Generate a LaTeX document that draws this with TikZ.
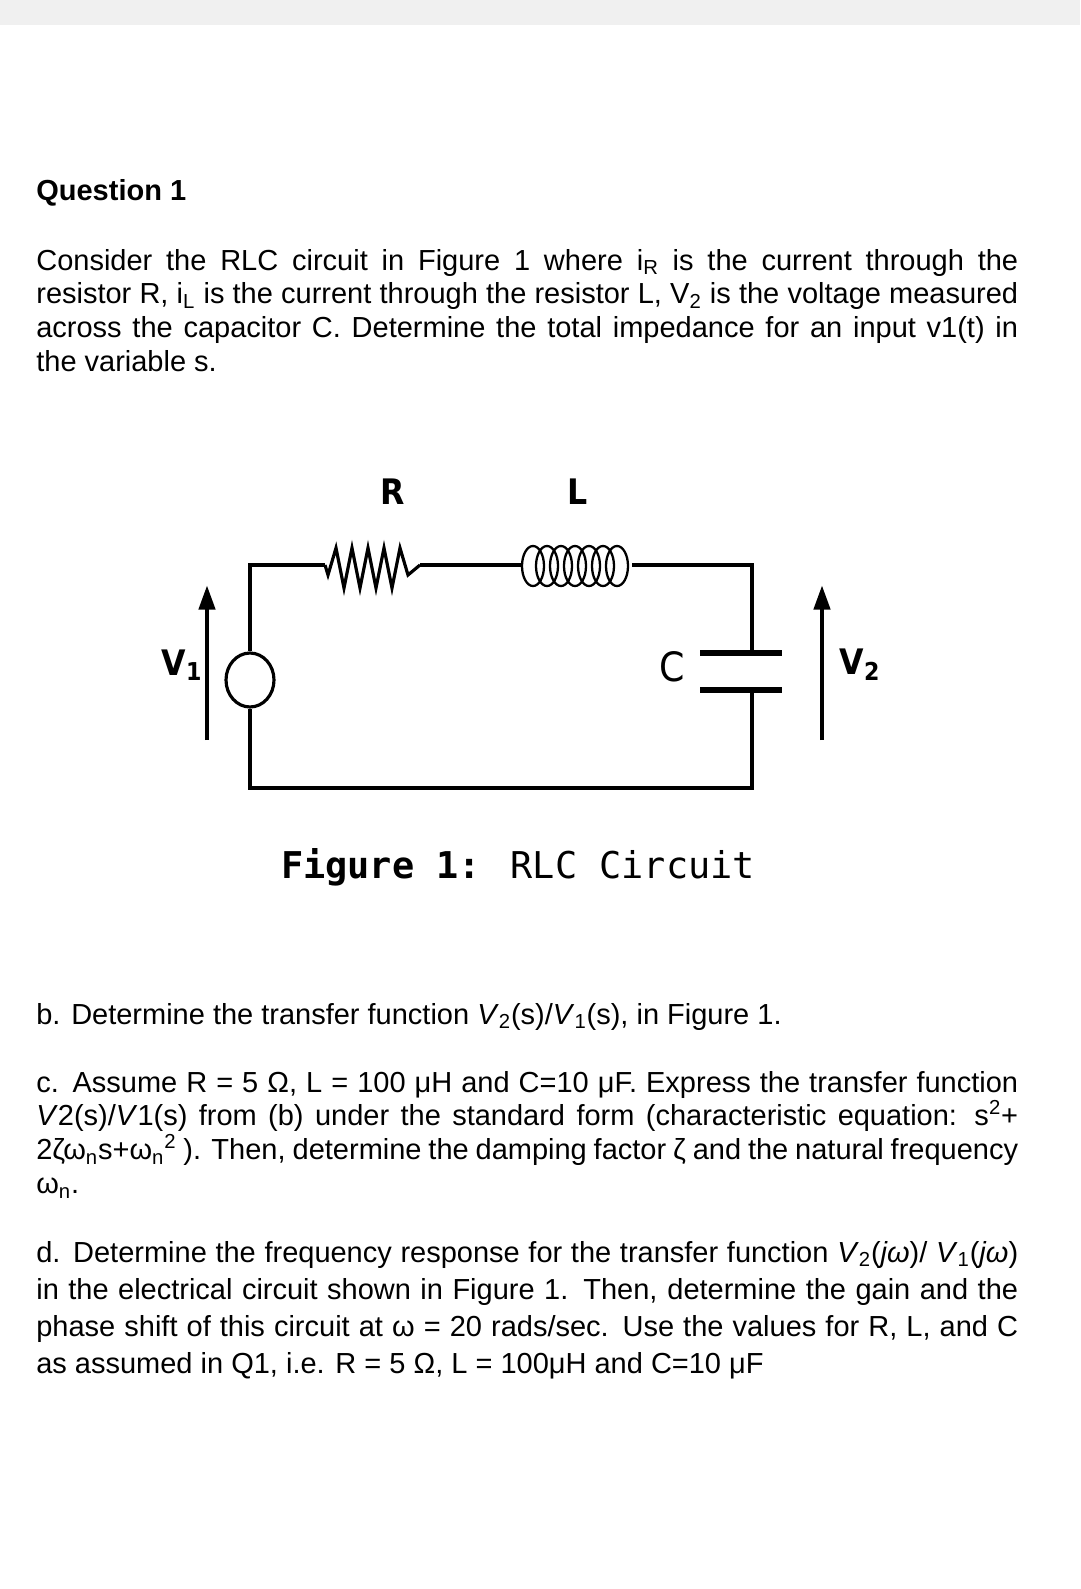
\documentclass[tikz,border=0pt]{standalone}
\usepackage{fontspec}
\setmainfont{Liberation Sans}
\newfontfamily\figmono{DejaVu Sans Mono}
\newfontfamily\labfont{DejaVu Sans Condensed}
\usetikzlibrary{arrows.meta,shapes.geometric}

\tikzset{WireStyle/.style = {line width=2.2pt, line join=miter},
 ParaStyle/.style = {anchor=base west, inner sep=0pt, text width=19.64cm, align=justify,
   font=\fontsize{16.5}{19.3}\selectfont},
 LabelStyle/.style = {inner sep=0pt, font=\labfont\bfseries\fontsize{20}{22}\selectfont},
 ArrowStyle/.style = {line width=2.8pt, -{Triangle[length=14pt,width=9pt]}}}

\begin{document}
\begin{tikzpicture}[x=0.02cm,y=-0.02cm]
\useasboundingbox (0,0) rectangle (1080,1589);
\fill[black!6] (0,0) rectangle (1080,25);

\node[ParaStyle, font=\bfseries\fontsize{16.5}{19.3}\selectfont] (Q) at (36,200) {Question 1};
\node[ParaStyle] (P1) at (36,270) {Consider the RLC circuit in Figure 1 where i\textsubscript{R} is the current through the\linebreak resistor R, i\textsubscript{L} is the current through the resistor L, V\textsubscript{2} is the voltage measured\linebreak across the capacitor C. Determine the total impedance for an input v1(t) in\linebreak the variable s.};

% circuit
\coordinate (TL) at (250,565);
\coordinate (TR) at (752,565);
\coordinate (BL) at (250,788);
\coordinate (BR) at (752,788);
\coordinate (R1) at (325,565);
\coordinate (R2) at (420,565);
\coordinate (L1) at (522,565);
\coordinate (L2) at (632,565);
\coordinate (C1) at (752,653);
\coordinate (C2) at (752,690);
\node[draw, line width=1.8pt, ellipse, minimum width=0.96cm, minimum height=1.08cm, inner sep=0pt] (SRC) at (250,680) {};

\draw[WireStyle] (SRC.north) -- (TL) -- (R1);
\draw[line width=1.8pt] (R1) -- (328,575) -- (336,548) -- (344,588) -- (352,548) -- (360,588) -- (368,548) -- (376,588) -- (384,548) -- (392,588) -- (400,548) -- (408,575) -- (R2);
\draw[WireStyle] (R2) -- (L1);
\foreach \i in {0,...,6}
  \draw[line width=1.3pt] (533+\i*14,566) ellipse (11 and 20);
\draw[WireStyle] (L2) -- (TR) -- (C1);
\draw[line width=3pt] (700,653) -- (782,653);
\draw[line width=3.6pt] (700,690) -- (782,690);
\draw[WireStyle] (C2) -- (BR) -- (BL) -- (SRC.south);

\draw[ArrowStyle] (207,740) -- (207,585);
\draw[ArrowStyle] (822,740) -- (822,585);
\node[LabelStyle] (NR) at (393,492) {R};
\node[LabelStyle] (NL) at (578,492) {L};
\node[LabelStyle, font=\labfont\fontsize{23}{24}\selectfont] (NC) at (672,667) {C};
\node[LabelStyle] (NV1) at (182,665) {V\textsubscript{1}};
\node[LabelStyle] (NV2) at (860,665) {V\textsubscript{2}};

\node[inner sep=0pt, anchor=base, font=\figmono\fontsize{21}{24}\selectfont] (CAP) at (518,878) {\textbf{Figure 1:} RLC Circuit};

\node[ParaStyle] (PB) at (36,1024) {b. Determine the transfer function \textit{V}\textsubscript{2}(s)/\textit{V}\textsubscript{1}(s), in Figure 1.};
\node[ParaStyle] (PC) at (36,1092) {c. Assume R = 5 Ω, L = 100 μH and C=10 μF. Express the transfer function\linebreak \textit{V}2(s)/\textit{V}1(s) from (b) under the standard form (characteristic equation: s\textsuperscript{2}+\linebreak 2ζω\textsubscript{n}s+ω\textsubscript{n}\textsuperscript{2} ). Then, determine the damping factor ζ and the natural frequency\linebreak ω\textsubscript{n}.};
\node[ParaStyle, font=\fontsize{16.5}{21.2}\selectfont] (PD) at (36,1262) {d. Determine the frequency response for the transfer function \textit{V}\textsubscript{2}(\textit{jω})/ \textit{V}\textsubscript{1}(\textit{jω})\linebreak in the electrical circuit shown in Figure 1. Then, determine the gain and the\linebreak phase shift of this circuit at ω = 20 rads/sec. Use the values for R, L, and C\linebreak as assumed in Q1, i.e. R = 5 Ω, L = 100μH and C=10 μF};
\end{tikzpicture}
\end{document}
